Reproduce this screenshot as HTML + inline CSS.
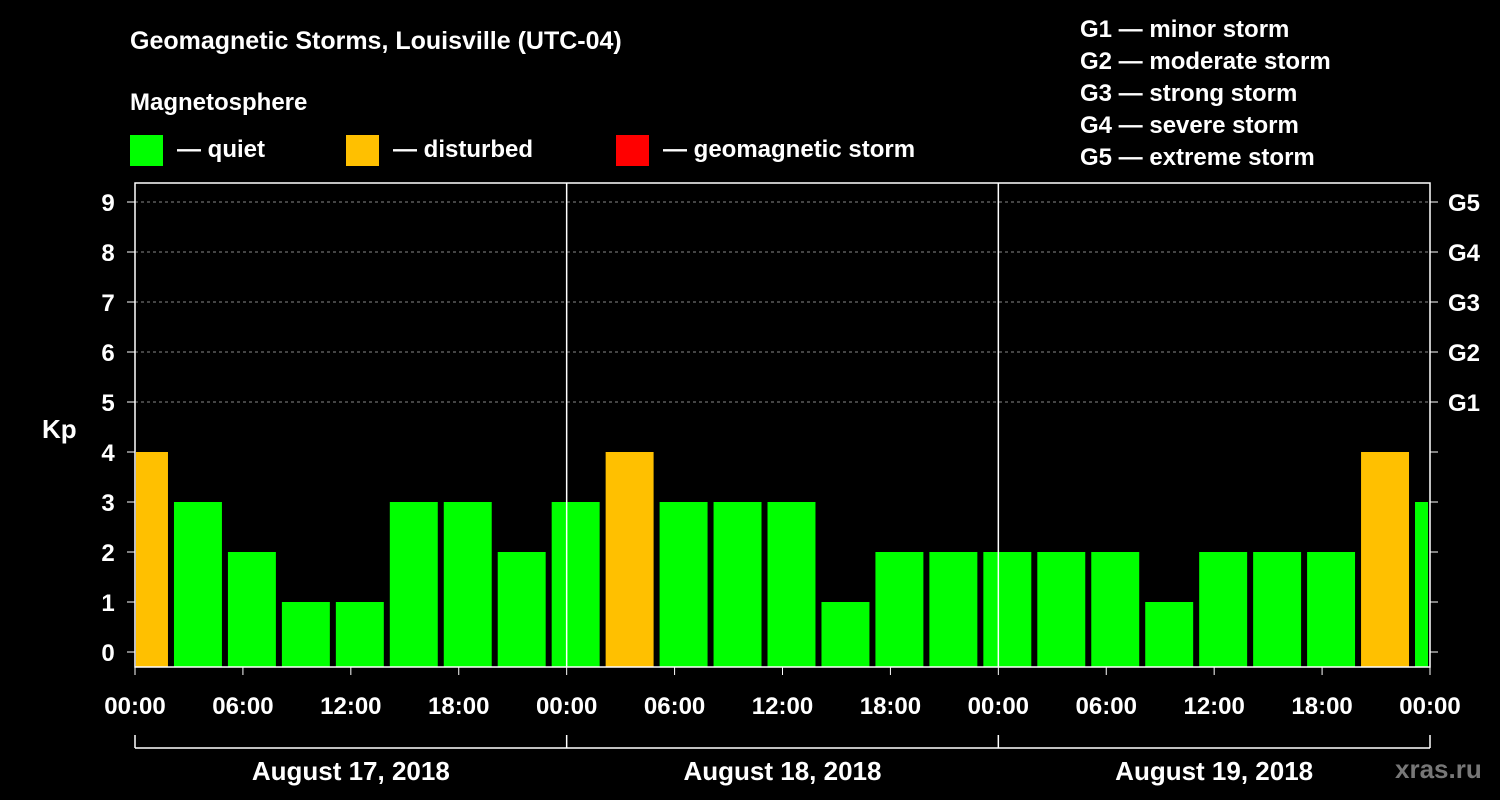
<!DOCTYPE html>
<html><head><meta charset="utf-8"><style>
html,body{margin:0;padding:0;background:#000;}
svg{display:block;font-family:"Liberation Sans",Arial,sans-serif;font-weight:bold;}
</style></head><body>
<svg id="c" width="1500" height="800" viewBox="0 0 1500 800">
<text x="130" y="49" fill="#fff" font-size="25">Geomagnetic Storms, Louisville (UTC-04)</text>
<text x="130" y="110" fill="#fff" font-size="24">Magnetosphere</text>
<g><rect x="130" y="135" width="33" height="31" fill="#00ff00"/><text x="177" y="157" fill="#fff" font-size="24">— quiet</text></g>
<g><rect x="346" y="135" width="33" height="31" fill="#ffc000"/><text x="393" y="157" fill="#fff" font-size="24">— disturbed</text></g>
<g><rect x="616" y="135" width="33" height="31" fill="#ff0000"/><text x="663" y="157" fill="#fff" font-size="24">— geomagnetic storm</text></g>
<g fill="#fff" font-size="24">
<text x="1080" y="37">G1 — minor storm</text><text x="1080" y="69">G2 — moderate storm</text><text x="1080" y="101">G3 — strong storm</text><text x="1080" y="133">G4 — severe storm</text><text x="1080" y="165">G5 — extreme storm</text></g>
<text x="42" y="438" fill="#fff" font-size="26">Kp</text>
<text x="1395" y="778" fill="#777" font-size="26">xras.ru</text>
<g id="plot"></g>
</svg>
<script>
const kpValues=[4,3,2,1,1,3,3,2,3,4,3,3,3,1,2,2,2,2,2,1,2,2,2,4,3];
const dayLabels=["August 17, 2018","August 18, 2018","August 19, 2018"];
const hourLabels=["00:00","06:00","12:00","18:00"];
const gLabels=["G1","G2","G3","G4","G5"];
const X0=135,X1=1430,PB=667,PT=183,startHour=-1,totalHours=72;
const xs=h=>X0+(h/totalHours)*(X1-X0);
const ys=v=>652-v*50;
const NS="http://www.w3.org/2000/svg",g=document.getElementById('plot');
function mk(t,a,txt){const e=document.createElementNS(NS,t);for(const k in a)e.setAttribute(k,a[k]);if(txt!==undefined)e.textContent=txt;g.appendChild(e);return e;}
for(let v=0;v<=9;v++){
 if(v>0&&v>=5){const l=mk('line',{x1:X0,x2:X1,y1:ys(v),y2:ys(v),stroke:'#888','stroke-dasharray':'3,3','stroke-width':1});
 
 }
 const t=mk('text',{x:108,y:ys(v)+9,fill:'#fff','font-size':24,'text-anchor':'middle'},String(v));
 
 
 mk('line',{x1:X0-8,x2:X0,y1:ys(v),y2:ys(v),stroke:'#fff','stroke-width':1});
 mk('line',{x1:X1,x2:X1+8,y1:ys(v),y2:ys(v),stroke:'#fff','stroke-width':1});
}
gLabels.forEach((s,i)=>{const t=mk('text',{x:1448,y:ys(5+i)+9,fill:'#fff','font-size':24},s);
 
 });
kpValues.forEach((v,i)=>{
 let a=xs(startHour+3*i)+3,b=xs(startHour+3*i+3)-3;
 a=Math.max(a,X0+1);b=Math.min(b,X1-2);
 const r=mk('rect',{x:a,y:ys(v),width:b-a,height:PB-ys(v),fill:v>=5?'#ff0000':(v>=4?'#ffc000':'#00ff00')});
 
 
});
for(let d=1;d<3;d++){const l=mk('line',{x1:xs(24*d),x2:xs(24*d),y1:PT,y2:PB,stroke:'#fff','stroke-width':1.5});
 
 }
const fr=mk('rect',{x:X0,y:PT,width:X1-X0,height:PB-PT,fill:'none',stroke:'#fff','stroke-width':1.5});


for(let h=0;h<=72;h+=6){
 mk('line',{x1:xs(h),x2:xs(h),y1:PB,y2:PB+8,stroke:'#fff','stroke-width':1});
 const t=mk('text',{x:xs(h),y:714,fill:'#fff','font-size':24,'text-anchor':'middle'},hourLabels[(h/6)%4]);
 
 
}
mk('line',{x1:X0,x2:X1,y1:748,y2:748,stroke:'#fff','stroke-width':1.5});
for(let d=0;d<=3;d++)mk('line',{x1:xs(24*d),x2:xs(24*d),y1:735,y2:748,stroke:'#fff','stroke-width':1.5});
dayLabels.forEach((s,i)=>{const t=mk('text',{x:xs(24*i+12),y:780,fill:'#fff','font-size':26,'text-anchor':'middle'},s);
 
 });
</script>
</body></html>
